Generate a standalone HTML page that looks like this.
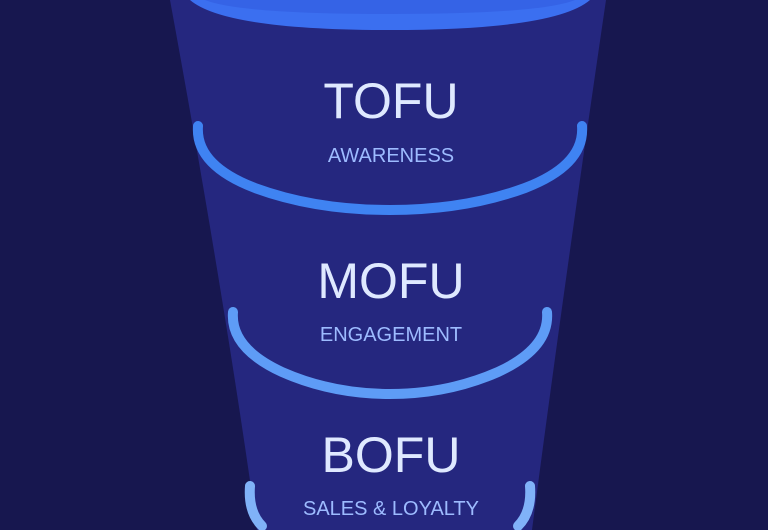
<!DOCTYPE html>
<html><head><style>
html,body{margin:0;padding:0;background:#17174f;width:768px;height:530px;overflow:hidden;}
svg{display:block;}
text{font-family:"Liberation Sans",sans-serif;text-anchor:middle;}
</style></head><body>
<svg width="768" height="530" viewBox="0 0 768 530">
<rect width="768" height="530" fill="#17174f"/>
<path d="M170 0 Q225 300 257 530 L532 530 Q562 300 606 0 Z" fill="#25277f"/>
<path d="M190 0 L590 0 Q555 30 390 30 Q225 30 190 0 Z" fill="#3b6ff0"/>
<path d="M205 0 L575 0 Q540 14 390 14 Q240 14 205 0 Z" fill="#3563e6"/>
<path d="M198 126 Q195 165 255 188 Q315 210 390 210 Q465 210 525 188 Q585 165 582 126" fill="none" stroke="#3f83f2" stroke-width="10" stroke-linecap="round"/>
<path d="M233 312 Q230 348 282 372 Q332 394 390 394 Q448 394 498 372 Q550 348 547 312" fill="none" stroke="#5e9cf6" stroke-width="10" stroke-linecap="round"/>
<path d="M250 486 Q248 512 262 526" fill="none" stroke="#80b2f8" stroke-width="10" stroke-linecap="round"/>
<path d="M530 486 Q532 512 518 526" fill="none" stroke="#80b2f8" stroke-width="10" stroke-linecap="round"/>
<text x="391" y="118" font-size="50" fill="#dfe9ff">TOFU</text>
<text x="391" y="162" font-size="20" fill="#9dbbff">AWARENESS</text>
<text x="391" y="298" font-size="50" fill="#dfe9ff">MOFU</text>
<text x="391" y="341" font-size="20" fill="#9dbbff">ENGAGEMENT</text>
<text x="391" y="472" font-size="50" fill="#dfe9ff">BOFU</text>
<text x="391" y="515" font-size="20" fill="#9dbbff">SALES &amp; LOYALTY</text>
</svg>
</body></html>
